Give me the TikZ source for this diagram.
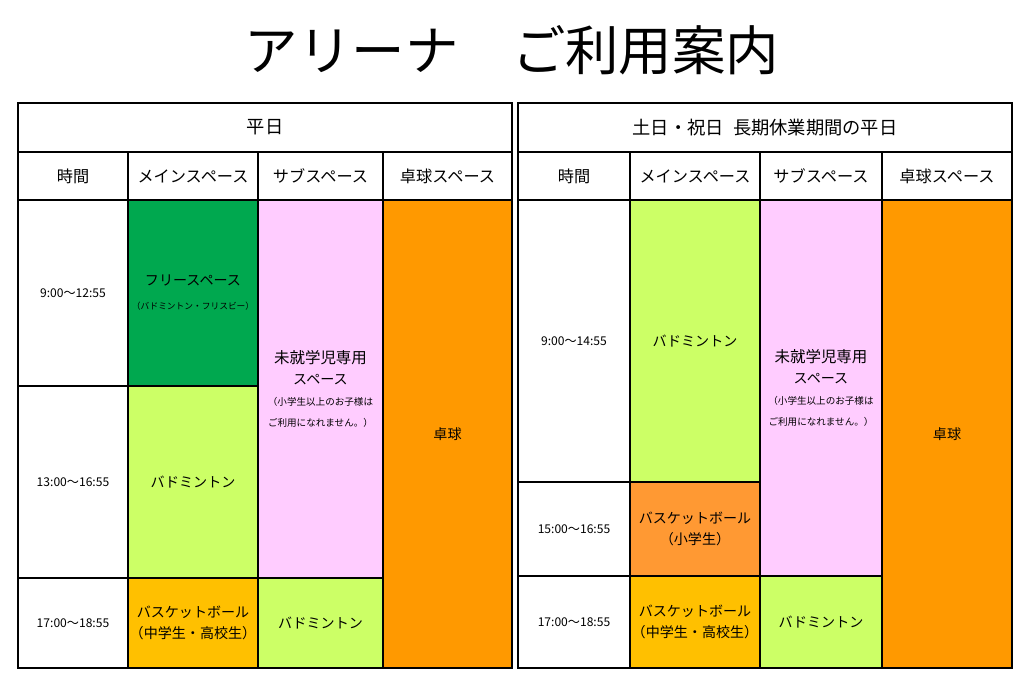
\documentclass[tikz,border=0pt]{standalone}
\usepackage{fontspec}
\setmainfont{Noto Sans CJK JP}
\usepackage{tikz}
\definecolor{colorFree}{HTML}{00A84F}
\definecolor{colorBad}{HTML}{CCFF66}
\definecolor{colorKids}{HTML}{FFCCFF}
\definecolor{colorTT}{HTML}{FF9900}
\definecolor{colorBasket}{HTML}{FFC000}
\definecolor{colorBasketS}{HTML}{FF9933}
\tikzset{cell/.style={draw, line width=1.3pt, inner sep=0pt, align=center, font=\fontsize{10}{15}\selectfont}}
% cell: name, x1, y1, x2, y2, fill, text (pixel units)
\newcommand\cellbox[7]{\node[cell, fill=#6, minimum width={(#4-#2)*0.025cm}, minimum height={(#5-#3)*0.025cm}] (#1) at ({(#2+#4)/2},{-(#3+#5)/2}) {#7};}
\newcommand\smalltxt[1]{{\fontsize{6.8}{16}\selectfont #1}}
\newcommand\timetxt[1]{{\fontsize{8.6}{10}\selectfont #1}}
\newcommand\headtxt[1]{{\fontsize{11.5}{14}\selectfont #1}}

\begin{document}
\begin{tikzpicture}[x=0.025cm, y=0.025cm]
\useasboundingbox (0,0) rectangle (1024,-698);
\node[font=\fontsize{38}{44}\selectfont] (title) at (512,-50) {アリーナ\quad ご利用案内};
% weekday table
\cellbox{lhead}{18}{103}{512}{152}{white}{{\fontsize{13}{16}\selectfont 平日}}
\cellbox{ltime}{18}{152}{128}{200}{white}{\headtxt{時間}}
\cellbox{lmain}{128}{152}{258}{200}{white}{\headtxt{メインスペース}}
\cellbox{lsub}{258}{152}{383}{200}{white}{\headtxt{サブスペース}}
\cellbox{ltt}{383}{152}{512}{200}{white}{\headtxt{卓球スペース}}
\cellbox{lta}{18}{200}{128}{386}{white}{\timetxt{9:00～12:55}}
\cellbox{ltb}{18}{386}{128}{578}{white}{\timetxt{13:00～16:55}}
\cellbox{ltc}{18}{578}{128}{668}{white}{\timetxt{17:00～18:55}}
\cellbox{lma}{128}{200}{258}{386}{colorFree}{フリースペース\\[2pt]{\fontsize{6.2}{16}\selectfont （バドミントン・フリスビー）}}
\cellbox{lmb}{128}{386}{258}{578}{colorBad}{バドミントン}
\cellbox{lmc}{128}{578}{258}{668}{colorBasket}{バスケットボール\\（中学生・高校生）}
\cellbox{lsa}{258}{200}{383}{578}{colorKids}{\fontsize{11}{22}\selectfont 未就学児専用\\スペース\\\smalltxt{（小学生以上のお子様は}\\\smalltxt{ご利用になれません。）}}
\cellbox{lsb}{258}{578}{383}{668}{colorBad}{バドミントン}
\cellbox{lta2}{383}{200}{512}{668}{colorTT}{卓球}
% weekend table
\cellbox{rhead}{518}{103}{1012}{152}{white}{{\fontsize{13}{16}\selectfont 土日・祝日\enspace 長期休業期間の平日}}
\cellbox{rtime}{518}{152}{630}{200}{white}{\headtxt{時間}}
\cellbox{rmain}{630}{152}{760}{200}{white}{\headtxt{メインスペース}}
\cellbox{rsub}{760}{152}{882}{200}{white}{\headtxt{サブスペース}}
\cellbox{rtt}{882}{152}{1012}{200}{white}{\headtxt{卓球スペース}}
\cellbox{rta}{518}{200}{630}{482}{white}{\timetxt{9:00～14:55}}
\cellbox{rtb}{518}{482}{630}{576}{white}{\timetxt{15:00～16:55}}
\cellbox{rtc}{518}{576}{630}{668}{white}{\timetxt{17:00～18:55}}
\cellbox{rma}{630}{200}{760}{482}{colorBad}{バドミントン}
\cellbox{rmb}{630}{482}{760}{576}{colorBasketS}{バスケットボール\\（小学生）}
\cellbox{rmc}{630}{576}{760}{668}{colorBasket}{バスケットボール\\（中学生・高校生）}
\cellbox{rsa}{760}{200}{882}{576}{colorKids}{\fontsize{11}{22}\selectfont 未就学児専用\\スペース\\\smalltxt{（小学生以上のお子様は}\\\smalltxt{ご利用になれません。）}}
\cellbox{rsb}{760}{576}{882}{668}{colorBad}{バドミントン}
\cellbox{rta2}{882}{200}{1012}{668}{colorTT}{卓球}
\end{tikzpicture}
\end{document}
